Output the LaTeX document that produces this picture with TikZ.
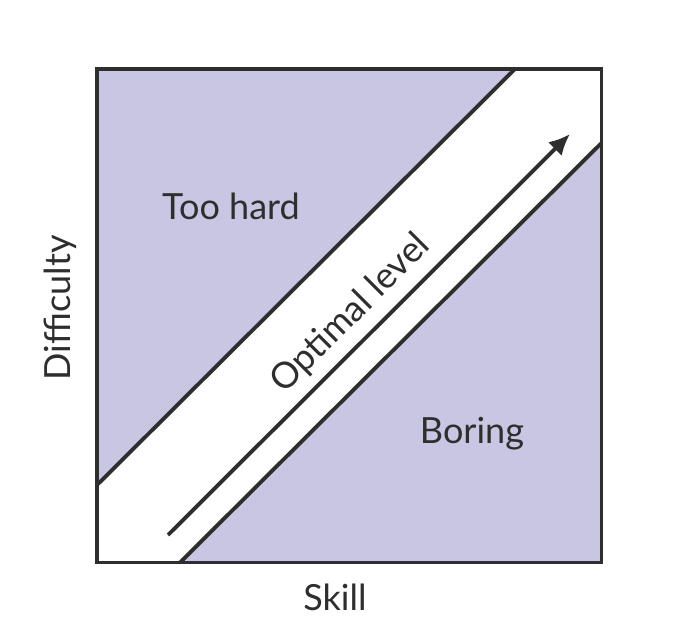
\documentclass[tikz,border=0pt]{standalone}
\usepackage{fontspec}
\setmainfont{Lato}
\usetikzlibrary{arrows.meta}

\definecolor{zonefill}{RGB}{200,198,227}
\definecolor{inkline}{RGB}{46,46,46}

\tikzset{
	every node/.style={font=\fontsize{20.5}{24}\selectfont, text=inkline, inner sep=0pt},
	edge line/.style={draw=inkline, line width=2.2pt},
}

\begin{document}
\begin{tikzpicture}
			\useasboundingbox (0,0) rectangle (13.8,12.84);
			
			% Corners of the frame
			\coordinate (SW) at (1.94,1.59);
			\coordinate (NE) at (12.03,11.46);
			
			% Ends of the two diagonals
			\coordinate (U1) at (1.94,3.14);
			\coordinate (U2) at (10.30,11.46);
			\coordinate (L1) at (3.60,1.59);
			\coordinate (L2) at (12.03,9.98);
			
			% Zones
			\fill[zonefill] (SW) rectangle (NE);
			\fill[white] (U1) -- (U2) -- (NE) -- (L2) -- (L1) -- (SW) -- cycle;
			
			% Diagonals
			\draw[edge line] (U1) -- (U2);
			\draw[edge line] (L1) -- (L2);
			
			% Frame
			\draw[edge line] (SW) rectangle (NE);
			
			% Arrow along the band
			\coordinate (A1) at (3.36,2.14);
			\coordinate (A2) at (11.40,10.16);
			\draw[edge line, -{Latex[length=12pt, width=11pt]}] (A1) -- (A2);
			
			% Labels
			\node (hard) at (4.62,8.72) {Too hard};
			\node (boring) at (9.44,4.16) {Boring};
			\node[rotate=45] (optimal) at (7.02,6.56) {Optimal level};
			\node (skill) at (6.70,0.90) {Skill};
			\node[rotate=90] (difficulty) at (1.20,6.68) {Difficulty};
		\end{tikzpicture}
\end{document}
